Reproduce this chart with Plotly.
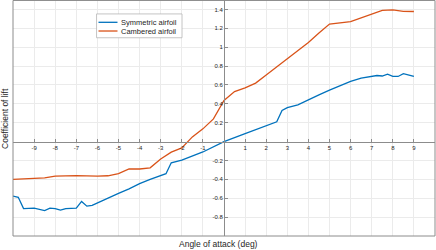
import plotly.graph_objects as go

# ---- data ----
sym_alpha = [-10, -9.75, -9.5, -9, -8.5, -8.25, -8, -7.75, -7.5, -7, -6.75, -6.5, -6.25, -6,
             -5.5, -5, -4.5, -4, -3.5, -3, -2.75, -2.5, -2, -1, 0, 1, 2, 2.5, 2.75, 3, 3.5,
             4, 4.5, 5, 5.5, 6, 6.5, 7, 7.25, 7.5, 7.75, 8, 8.25, 8.5, 9]
sym_cl = [-0.577, -0.59, -0.71, -0.705, -0.73, -0.705, -0.71, -0.725, -0.71, -0.705, -0.634,
          -0.684, -0.675, -0.648, -0.598, -0.548, -0.5, -0.445, -0.4, -0.365, -0.34, -0.225,
          -0.195, -0.11, 0.0, 0.085, 0.17, 0.21, 0.33, 0.36, 0.39, 0.445, 0.495, 0.545,
          0.595, 0.637, 0.672, 0.695, 0.70, 0.695, 0.715, 0.69, 0.69, 0.72, 0.69]

cam_alpha = [-10, -9, -8.5, -8, -7, -6, -5.5, -5, -4.5, -4, -3.5, -3, -2.5, -2, -1.5, -1,
             -0.5, 0, 0.5, 1, 1.5, 2, 2.5, 3, 3.5, 4, 4.5, 5, 6, 6.5, 7, 7.5, 8, 8.5, 9]
cam_cl = [-0.40, -0.39, -0.385, -0.365, -0.36, -0.365, -0.362, -0.34, -0.29, -0.29, -0.278,
          -0.185, -0.112, -0.067, 0.05, 0.135, 0.24, 0.435, 0.53, 0.57, 0.62, 0.705, 0.79,
          0.875, 0.965, 1.05, 1.15, 1.245, 1.27, 1.31, 1.35, 1.39, 1.395, 1.38, 1.378]

series_names = ["Symmetric airfoil", "Cambered airfoil"]
series_colors = ["#0072BD", "#D95319"]

x_tickvals = [-9, -8, -7, -6, -5, -4, -3, -2, -1, 1, 2, 3, 4, 5, 6, 7, 8, 9]
x_ticktext = ["-9", "-8", "-7", "-6", "-5", "-4", "-3", "-2", "-1",
              "1", "2", "3", "4", "5", "6", "7", "8", "9"]
y_tickvals = [-0.8, -0.6, -0.4, -0.2, 0.2, 0.4, 0.6, 0.8, 1.0, 1.2, 1.4]
y_ticktext = ["-0.8", "-0.6", "-0.4", "-0.2", "0.2", "0.4", "0.6", "0.8", "1", "1.2", "1.4"]

x_title = "Angle of attack (deg)"
y_title = "Coefficient of lift"

X_RANGE = [-10, 10]
Y_RANGE = [-1, 1.5]

FONT = "Liberation Sans, Arial, sans-serif"
TXT = "#262626"
AX_COLOR = "#8c8c8c"
GRID = "#ebebeb"

fig = go.Figure()
for xs, ys, name, col in [(sym_alpha, sym_cl, series_names[0], series_colors[0]),
                          (cam_alpha, cam_cl, series_names[1], series_colors[1])]:
    fig.add_trace(go.Scatter(x=xs, y=ys, mode="lines", name=name,
                             line=dict(color=col, width=1.3), showlegend=False))

# the axes cross at the origin: position of the origin inside the plot area
x0_frac = (0 - X_RANGE[0]) / (X_RANGE[1] - X_RANGE[0])
y0_frac = (0 - Y_RANGE[0]) / (Y_RANGE[1] - Y_RANGE[0])

# MATLAB-style compact legend box (paper coordinates)
LEG_X0, LEG_X1, LEG_Y0, LEG_Y1 = 0.198, 0.4005, 0.840, 0.941
LEG_ROWS = [0.9055, 0.8686]
shapes = [dict(type="rect", xref="paper", yref="paper", x0=0, x1=1, y0=0, y1=0.998,
               line=dict(color=AX_COLOR, width=1), fillcolor="rgba(0,0,0,0)", layer="above"),
          dict(type="rect", xref="paper", yref="paper", x0=LEG_X0, x1=LEG_X1, y0=LEG_Y0, y1=LEG_Y1,
               line=dict(color="#b5b5b5", width=0.8), fillcolor="white", layer="above")]
annotations = [
    dict(text=x_title, xref="paper", yref="paper", x=0.486, y=-0.035,
         xanchor="center", yanchor="middle", showarrow=False,
         font=dict(size=8.5, family=FONT, color=TXT)),
    dict(text=y_title, xref="paper", yref="paper", x=-0.019, y=0.5, textangle=-90,
         xanchor="center", yanchor="middle", showarrow=False,
         font=dict(size=8.5, family=FONT, color=TXT)),
]
for name, col, yr in zip(series_names, series_colors, LEG_ROWS):
    shapes.append(dict(type="line", xref="paper", yref="paper", x0=0.2026, x1=0.2476, y0=yr, y1=yr,
                       line=dict(color=col, width=1.3), layer="above"))
    annotations.append(dict(text=name, xref="paper", yref="paper", x=0.251, y=yr,
                            xanchor="left", yanchor="middle", showarrow=False,
                            font=dict(size=7.5, family=FONT, color=TXT)))

fig.update_layout(
    width=436, height=250,
    margin=dict(l=13, r=1, t=0, b=14, autoexpand=False),
    paper_bgcolor="white", plot_bgcolor="white",
    font=dict(family=FONT, color=TXT),
    showlegend=False,
    hovermode=False,
    xaxis=dict(range=X_RANGE, anchor="free", position=y0_frac, automargin=False,
               tickvals=x_tickvals, ticktext=x_ticktext,
               tickfont=dict(size=6, color=TXT),
               showgrid=True, gridcolor=GRID, gridwidth=1,
               zeroline=False, showline=True, linecolor=AX_COLOR, linewidth=1,
               ticks="inside", ticklen=3, tickcolor=AX_COLOR),
    yaxis=dict(range=Y_RANGE, anchor="free", position=x0_frac, automargin=False,
               tickvals=y_tickvals, ticktext=y_ticktext,
               tickfont=dict(size=6, color=TXT),
               showgrid=True, gridcolor=GRID, gridwidth=1,
               zeroline=False, showline=True, linecolor=AX_COLOR, linewidth=1,
               ticks="inside", ticklen=3, tickcolor=AX_COLOR),
    shapes=shapes,
    annotations=annotations,
)

fig.write_html("out.html",
               config={"displayModeBar": False},
               post_script="document.body.style.margin='0px';document.body.style.overflow='hidden';")
